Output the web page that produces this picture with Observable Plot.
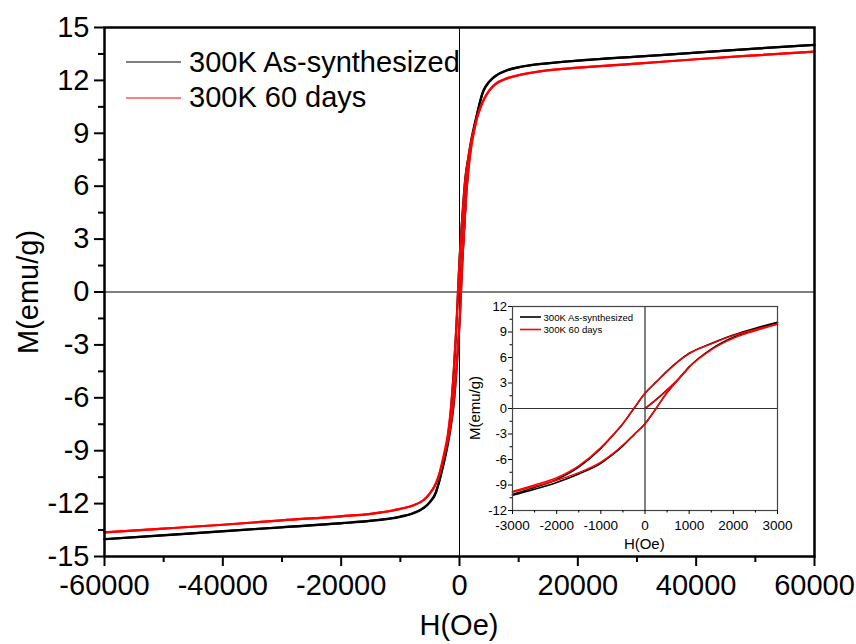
<!DOCTYPE html>
<html><head><meta charset="utf-8">
<script src="https://cdn.jsdelivr.net/npm/d3@7"></script>
<script src="https://cdn.jsdelivr.net/npm/@observablehq/plot@0.6"></script>
<style>
html,body{margin:0;padding:0;background:#fff;}
#wrap{position:relative;width:856px;height:644px;font-family:"Liberation Sans",Arial,sans-serif;}
#wrap svg{position:absolute;overflow:visible;}
</style></head><body><div id="wrap"></div>
<script>
// ---- data ----
const seriesNames = ["300K As-synthesized", "300K 60 days"];
const seriesColors = ["#000000", "#ff0000"];

// field grid (Oe), high to low
const fieldH = [60000, 50000, 40000, 30000, 20000, 15000, 10000, 8000, 6000, 5000, 4000, 3500, 3000, 2500, 2000, 1500, 1000, 750, 500, 250, 0,
  -250, -500, -750, -1000, -1500, -2000, -2500, -3000, -3500, -4000, -5000, -6000, -8000, -10000, -15000, -20000, -30000, -40000, -50000, -60000];

// M (emu/g) on descending branch (field sweep + to -)
const blackDown = [14.02, 13.80, 13.57, 13.35, 13.12, 12.98, 12.75, 12.58, 12.25, 11.93, 11.40, 10.85, 10.15, 9.45, 8.65, 7.65, 6.50, 5.55, 4.40, 3.10, 1.80,
  0.00, -1.80, -3.30, -4.70, -6.90, -8.35, -9.30, -10.10, -10.80, -11.35, -11.90, -12.22, -12.56, -12.73, -12.97, -13.11, -13.34, -13.56, -13.79, -14.02];
// M on ascending branch (field sweep - to +), given at the same fields
const blackUp = [14.02, 13.80, 13.57, 13.35, 13.12, 12.97, 12.74, 12.56, 12.22, 11.90, 11.35, 10.80, 10.10, 9.30, 8.40, 7.00, 4.90, 3.40, 1.90, 0.00, -1.80,
  -3.10, -4.40, -5.50, -6.45, -7.70, -8.70, -9.50, -10.20, -10.85, -11.40, -11.93, -12.25, -12.58, -12.75, -12.98, -13.12, -13.35, -13.57, -13.80, -14.02];
const redDown = [13.63, 13.42, 13.20, 12.95, 12.72, 12.58, 12.30, 12.12, 11.78, 11.42, 10.85, 10.45, 9.95, 9.30, 8.60, 7.60, 6.45, 5.50, 4.35, 3.10, 1.80,
  0.05, -1.75, -3.25, -4.60, -6.75, -8.15, -9.00, -9.75, -10.40, -10.85, -11.42, -11.78, -12.12, -12.30, -12.58, -12.72, -12.95, -13.20, -13.42, -13.63];
const redUp = [13.63, 13.42, 13.20, 12.95, 12.72, 12.57, 12.29, 12.10, 11.76, 11.40, 10.82, 10.40, 9.90, 9.15, 8.25, 6.90, 4.85, 3.40, 1.85, 0.00, -1.80,
  -3.05, -4.30, -5.40, -6.30, -7.55, -8.45, -9.15, -9.85, -10.45, -10.87, -11.42, -11.78, -12.12, -12.30, -12.58, -12.72, -12.95, -13.20, -13.42, -13.63];

// initial magnetization curve
const virginH = [0, 250, 500, 750, 1000];
const virginBlack = [0, 1.05, 2.20, 3.45, 4.90];
const virginRed = [0, 1.00, 2.15, 3.40, 4.85];

// ticks
const mainXTicks = [-60000, -40000, -20000, 0, 20000, 40000, 60000];
const mainXMinor = [-50000, -30000, -10000, 10000, 30000, 50000];
const mainYTicks = [-15, -12, -9, -6, -3, 0, 3, 6, 9, 12, 15];
const mainYMinor = [-13.5, -10.5, -7.5, -4.5, -1.5, 1.5, 4.5, 7.5, 10.5, 13.5];
const insetXTicks = [-3000, -2000, -1000, 0, 1000, 2000, 3000];
const insetXMinor = [-2500, -1500, -500, 500, 1500, 2500];
const insetYTicks = [-12, -9, -6, -3, 0, 3, 6, 9, 12];
const insetYMinor = [-10.5, -7.5, -4.5, -1.5, 1.5, 4.5, 7.5, 10.5];
const xLabel = "H(Oe)";
const yLabel = "M(emu/g)";

// ---- build rows ----
const rows = [];
const branches = [[blackDown, blackUp, virginBlack], [redDown, redUp, virginRed]];
branches.forEach(([down, up, virg], s) => {
  const addBranch = (Hs, Ms, tag) => {
    const pts = Hs.map((h, i) => ({H: h, M: Ms[i], series: seriesNames[s], key: seriesNames[s] + tag}));
    pts.sort((a, b) => a.H - b.H);
    rows.push(...pts);
  };
  addBranch(virginH, virg, "v");
  addBranch(fieldH, down, "d");
  addBranch(fieldH, up, "u");
});

const font = '"Liberation Sans", Arial, sans-serif';
const wrap = document.getElementById("wrap");
const color = {domain: seriesNames, range: seriesColors};
const fmt = d => String(d);

// ---- main chart ----
const main = Plot.plot({
  width: 856, height: 644,
  marginLeft: 104, marginRight: 42, marginTop: 27, marginBottom: 88,
  style: {fontFamily: font, fontSize: "29px", background: "transparent", color: "black"},
  x: {domain: [-60000, 60000]},
  y: {domain: [-15, 15]},
  color,
  marks: [
    Plot.ruleX([0], {stroke: "black", strokeWidth: 1}),
    Plot.ruleY([0], {stroke: "black", strokeWidth: 1}),
    Plot.line(rows, {x: "H", y: "M", z: "key", stroke: "series", strokeWidth: 2.2, curve: "monotone-x"}),
    Plot.frame({stroke: "black", strokeWidth: 2.5}),
    Plot.axisX({ticks: mainXTicks, tickSize: 10, tickPadding: 8, tickFormat: fmt, fontSize: 29, strokeWidth: 2, label: null}),
    Plot.axisX({ticks: mainXMinor, tickSize: 6, tickFormat: () => "", strokeWidth: 2, label: null}),
    Plot.axisY({ticks: mainYTicks, tickSize: 10, tickPadding: 5, tickFormat: fmt, fontSize: 29, strokeWidth: 2, label: null}),
    Plot.axisY({ticks: mainYMinor, tickSize: 6, tickFormat: () => "", strokeWidth: 2, label: null})
  ]
});
main.style.left = "0px"; main.style.top = "0px";
wrap.appendChild(main);

// ---- inset ----
const insetRows = rows.filter(d => d.H >= -3000 && d.H <= 3000);
const inset = Plot.plot({
  width: 340, height: 265,
  marginLeft: 52, marginRight: 23, marginTop: 11, marginBottom: 50,
  style: {fontFamily: font, fontSize: "14px", background: "transparent", color: "black"},
  x: {domain: [-3000, 3000]},
  y: {domain: [-12, 12]},
  color,
  marks: [
    Plot.ruleX([0], {stroke: "black", strokeWidth: 1}),
    Plot.ruleY([0], {stroke: "#333", strokeWidth: 1}),
    Plot.line(insetRows, {x: "H", y: "M", z: "key", stroke: "series", strokeWidth: 1.5, curve: "monotone-x"}),
    Plot.frame({stroke: "#444", strokeWidth: 1.2}),
    Plot.axisX({ticks: insetXTicks, tickSize: 4, tickPadding: 6, tickFormat: fmt, fontSize: 13.5, strokeWidth: 1, label: null}),
    Plot.axisX({ticks: insetXMinor, tickSize: 2.5, tickFormat: () => "", strokeWidth: 1, label: null}),
    Plot.axisY({ticks: insetYTicks, tickSize: 4, tickPadding: 1.5, tickFormat: fmt, fontSize: 13, strokeWidth: 1, label: null}),
    Plot.axisY({ticks: insetYMinor, tickSize: 2.5, tickFormat: () => "", strokeWidth: 1, label: null})
  ]
});
inset.style.left = "460px"; inset.style.top = "295px";
wrap.appendChild(inset);

// ---- overlay: axis titles and legends ----
const ov = d3.select(wrap).append("svg").attr("width", 856).attr("height", 644)
  .style("left", "0px").style("top", "0px").attr("font-family", font);

function title(x, y, size, text, rotate) {
  const t = ov.append("text").attr("text-anchor", "middle").attr("font-size", size).attr("fill", "black").text(text);
  if (rotate) t.attr("transform", `translate(${x},${y}) rotate(-90)`);
  else t.attr("x", x).attr("y", y);
}
title(459, 635, 29, xLabel, false);
title(38, 292, 29, yLabel, true);
title(644.3, 549, 15, xLabel, false);
title(480, 408, 15, yLabel, true);

function legend(x0, x1, xt, ys, yb, size, sw) {
  seriesNames.forEach((name, i) => {
    ov.append("line").attr("x1", x0).attr("x2", x1).attr("y1", ys[i]).attr("y2", ys[i])
      .attr("stroke", seriesColors[i]).attr("stroke-width", sw);
    ov.append("text").attr("x", xt).attr("y", yb[i]).attr("font-size", size).attr("fill", "black").text(name);
  });
}
legend(126, 181, 189, [62, 98], [71.5, 107], 29, 1.2);
legend(520, 541, 543.5, [317, 329.5], [320.7, 333], 9.6, 1.6);
</script>
</body></html>
